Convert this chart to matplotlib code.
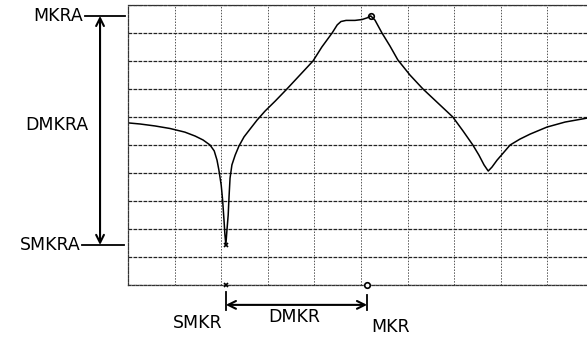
import matplotlib
matplotlib.use("Agg")
import matplotlib.pyplot as plt
import numpy as np

# trace, in graticule divisions (10 x 10)
trace_x = [0.00, 0.26, 0.58, 0.90, 1.22, 1.44, 1.61, 1.76, 1.85, 1.91,
           1.95, 2.00, 2.03, 2.06, 2.08, 2.10, 2.12, 2.15, 2.17, 2.19,
           2.23, 2.30, 2.38, 2.49, 2.62, 2.77, 2.94, 3.16, 3.41, 3.69,
           3.97, 4.16, 4.38, 4.49, 4.57, 4.68, 4.87, 5.02, 5.13, 5.21,
           5.30, 5.45, 5.62, 5.79, 6.05, 6.33, 6.65, 6.97, 7.19, 7.40,
           7.53, 7.64, 7.73, 7.81, 7.92, 8.05, 8.20, 8.41, 8.63, 8.99,
           9.38, 9.85, 10.0]
trace_y = [5.79, 5.75, 5.68, 5.59, 5.46, 5.32, 5.18, 5.00, 4.79, 4.46,
           4.11, 3.57, 3.04, 2.32, 1.79, 1.43, 1.89, 2.50, 3.21, 3.82,
           4.29, 4.64, 4.96, 5.29, 5.57, 5.89, 6.21, 6.57, 7.00, 7.50,
           8.00, 8.50, 9.00, 9.29, 9.41, 9.45, 9.45, 9.48, 9.54, 9.61,
           9.46, 9.00, 8.54, 8.04, 7.50, 7.00, 6.50, 6.00, 5.50, 5.00,
           4.64, 4.29, 4.07, 4.21, 4.46, 4.71, 5.00, 5.21, 5.39, 5.64,
           5.82, 5.96, 6.00]

mkr_x = 5.13    # marker read-out position on the x axis
smkr_x = 2.10   # search marker position

tx = np.array(trace_x)
ty = np.array(trace_y)
ipk = int(np.argmax(ty))
imn = int(np.argmin(ty))
mkra = ty[ipk]
smkra = ty[imn]

fig = plt.figure(figsize=(5.87, 3.39), dpi=100)
ax = fig.add_axes([128/587, 54/339, 466/587, 280/339])
ax.set_xlim(0, 10)
ax.set_ylim(0, 10)
ax.set_xticks(np.arange(0, 11))
ax.set_yticks(np.arange(0, 11))
ax.tick_params(length=0, labelbottom=False, labelleft=False)
ax.xaxis.grid(True, color="#555555", lw=0.7, ls=(0, (1.5, 1.5)))
ax.yaxis.grid(True, color="#222222", lw=0.9, ls=(0, (3, 1)))
for s in ax.spines.values():
    s.set_linestyle((0, (2, 1.2)))
    s.set_linewidth(0.9)
    s.set_color("#333333")

ax.plot(tx, ty, color="black", lw=1.1)
ax.plot(tx[ipk], mkra, "o", ms=4, mfc="none", mec="black", mew=1.2)
ax.plot(tx[imn], smkra, "x", ms=3, color="black", mew=1.2)
ax.plot(mkr_x, 0, "o", ms=4, mfc="white", mec="black", mew=1.2, clip_on=False, zorder=5)
ax.plot(smkr_x, 0, "x", ms=3, color="black", mew=1.2, clip_on=False, zorder=5)

k = dict(clip_on=False, color="black")
# amplitude side
ax.plot([-0.92, -0.06], [mkra, mkra], lw=1.3, **k)
ax.plot([-0.99, -0.09], [smkra, smkra], lw=1.3, **k)
ax.annotate("", xy=(-0.60, mkra), xytext=(-0.60, smkra), annotation_clip=False,
            arrowprops=dict(arrowstyle="<->", lw=1.5, color="black",
                            shrinkA=0, shrinkB=0, mutation_scale=14))
fs = 12.5
ax.text(-0.97, mkra, "MKRA", ha="right", va="center", fontsize=fs, **k)
ax.text(-1.01, smkra, "SMKRA", ha="right", va="center", fontsize=fs, **k)
ax.text(-1.52, 5.71, "DMKRA", ha="center", va="center", fontsize=fs, **k)

# frequency side
ax.plot([smkr_x, smkr_x], [-0.25, -0.89], lw=1.3, **k)
ax.plot([mkr_x, mkr_x], [-0.35, -0.89], lw=1.3, **k)
ax.annotate("", xy=(smkr_x, -0.71), xytext=(mkr_x, -0.71), annotation_clip=False,
            arrowprops=dict(arrowstyle="<->", lw=1.5, color="black",
                            shrinkA=0, shrinkB=0, mutation_scale=14))
ax.text(1.50, -1.36, "SMKR", ha="center", va="center", fontsize=fs, **k)
ax.text(3.56, -1.14, "DMKR", ha="center", va="center", fontsize=fs, **k)
ax.text(5.64, -1.50, "MKR", ha="center", va="center", fontsize=fs, **k)

fig.savefig("out.png", dpi=100)
